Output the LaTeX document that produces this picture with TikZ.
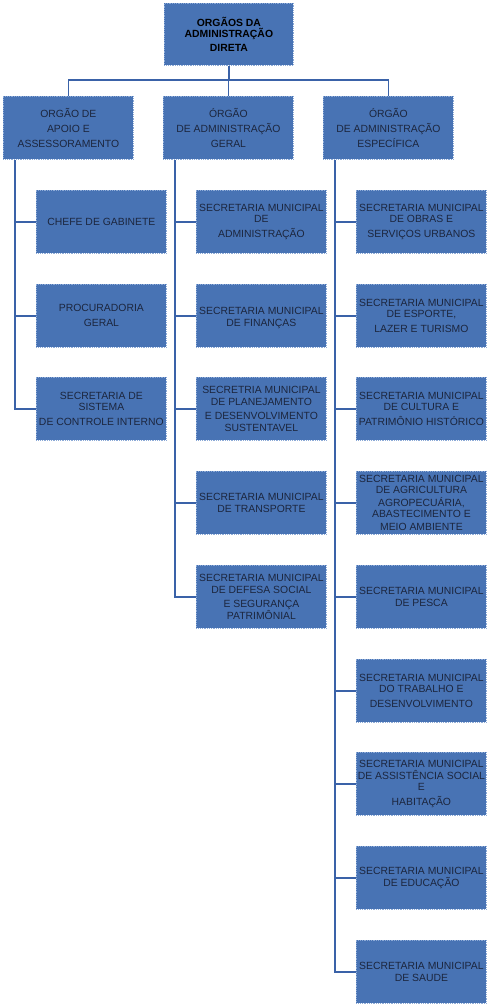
\documentclass[tikz,border=0pt]{standalone}
\usepackage{fontspec}
\setmainfont{Liberation Sans}
\begin{document}
\begin{tikzpicture}[x=1pt,y=-1pt,
  box/.style={draw=boxedge, densely dotted, line width=0.8pt, fill=boxblue, text=boxtext,
    minimum width=130pt, minimum height=63pt, inner sep=0pt, anchor=north west,
    align=center, font=\fontsize{10.4}{11.6}\selectfont},
  topbox/.style={box, minimum width=129pt, minimum height=62pt, text=black,
    font=\fontsize{10.4}{11.4}\selectfont\bfseries},
  conn/.style={draw=connblue, line width=1.6pt}]
\definecolor{boxblue}{RGB}{72,115,180}
\definecolor{boxedge}{RGB}{140,170,215}
\definecolor{boxtext}{RGB}{28,38,62}
\definecolor{connblue}{RGB}{58,98,168}
\useasboundingbox (0,0) rectangle (490,1006);
% top
\node[topbox] (top) at (164,3) {ORGÃOS DA\\ADMINISTRAÇÃO\\[3pt]DIRETA};
% level 2
\node[box, font=\fontsize{10.4}{15}\selectfont] (a) at (3,96) {ORGÃO DE\\APOIO E\\ASSESSORAMENTO};
\node[box, font=\fontsize{10.4}{15}\selectfont] (b) at (163,96) {ÓRGÃO\\DE ADMINISTRAÇÃO\\GERAL};
\node[box, font=\fontsize{10.4}{15}\selectfont] (c) at (323,96) {ÓRGÃO\\DE ADMINISTRAÇÃO\\ESPECÍFICA};
% left column
\node[box] (a1) at (36,190) {CHEFE DE GABINETE};
\node[box, font=\fontsize{10.4}{15}\selectfont] (a2) at (36,284) {PROCURADORIA\\GERAL};
\node[box] (a3) at (36,377) {SECRETARIA DE\\SISTEMA\\[3pt]DE CONTROLE INTERNO};
% middle column
\node[box] (b1) at (196,190) {SECRETARIA MUNICIPAL\\DE\\[3pt]ADMINISTRAÇÃO};
\node[box] (b2) at (196,284) {\\[0pt]SECRETARIA MUNICIPAL\\DE FINANÇAS};
\node[box] (b3) at (196,377) {SECRETRIA MUNICIPAL\\DE PLANEJAMENTO\\[3pt]E DESENVOLVIMENTO\\SUSTENTAVEL};
\node[box] (b4) at (196,471) {SECRETARIA MUNICIPAL\\DE TRANSPORTE};
\node[box] (b5) at (196,565) {SECRETARIA MUNICIPAL\\DE DEFESA SOCIAL\\[3pt]E SEGURANÇA\\PATRIMÔNIAL};
% right column
\node[box] (c1) at (356,190) {SECRETARIA MUNICIPAL\\DE OBRAS E\\[3pt]SERVIÇOS URBANOS};
\node[box] (c2) at (356,284) {SECRETARIA MUNICIPAL\\DE ESPORTE,\\[3pt]LAZER E TURISMO};
\node[box] (c3) at (356,377) {SECRETARIA MUNICIPAL\\DE CULTURA E\\[3pt]PATRIMÔNIO HISTÓRICO};
\node[box, font=\fontsize{10.4}{10.8}\selectfont] (c4) at (356,471) {SECRETARIA MUNICIPAL\\DE AGRICULTURA\\[2pt]AGROPECUÁRIA,\\ABASTECIMENTO E\\[2pt]MEIO AMBIENTE};
\node[box] (c5) at (356,565) {SECRETARIA MUNICIPAL\\DE PESCA};
\node[box] (c6) at (356,659) {SECRETARIA MUNICIPAL\\DO TRABALHO E\\[3pt]DESENVOLVIMENTO};
\node[box] (c7) at (356,752) {SECRETARIA MUNICIPAL\\DE ASSISTÊNCIA SOCIAL\\E\\[3pt]HABITAÇÃO};
\node[box] (c8) at (356,846) {SECRETARIA MUNICIPAL\\DE EDUCAÇÃO};
\node[box] (c9) at (356,940) {SECRETARIA MUNICIPAL\\DE SAUDE};
% connectors top
\coordinate (bus) at (0,80);
\draw[conn] (top.south) -- (top.south |- bus);
\draw[conn] (a.north) -- (a.north |- bus) -| (c.north);
\draw[conn] (b.north) -- (b.north |- bus);
% column spines
\coordinate (ax) at (15,0);
\coordinate (bx) at (175,0);
\coordinate (cx) at (335,0);
\draw[conn] (a.south -| ax) |- (a3.west);
\draw[conn] (ax |- a1.west) -- (a1.west);
\draw[conn] (ax |- a2.west) -- (a2.west);
\draw[conn] (b.south -| bx) |- (b5.west);
\foreach \n in {b1,b2,b3,b4} \draw[conn] (bx |- \n.west) -- (\n.west);
\draw[conn] (c.south -| cx) |- (c9.west);
\foreach \n in {c1,c2,c3,c4,c5,c6,c7,c8} \draw[conn] (cx |- \n.west) -- (\n.west);
\end{tikzpicture}
\end{document}
